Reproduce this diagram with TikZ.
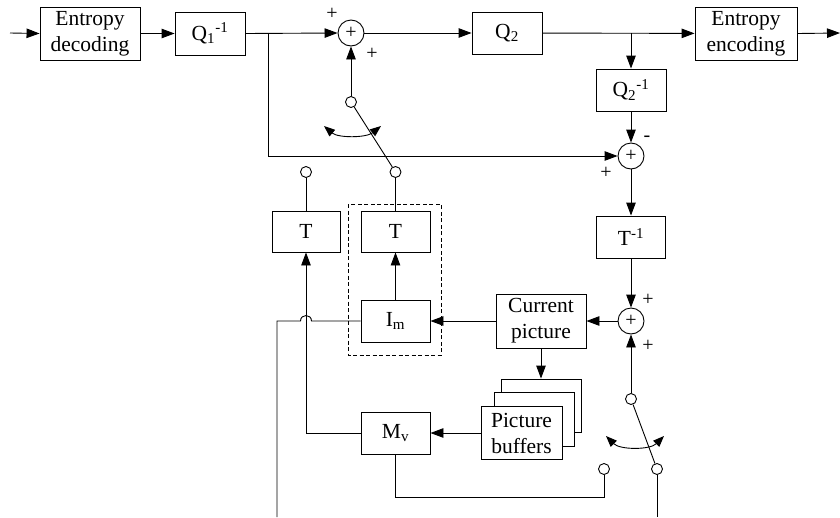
\documentclass[tikz,border=0pt]{standalone}
\usepackage{fontspec}
\setmainfont{Liberation Serif}
\usetikzlibrary{arrows.meta}
\begin{document}
\begin{tikzpicture}[x=1pt,y=-1pt, line width=0.9pt,
  box/.style={draw, inner sep=0pt, align=center, fill=white, font=\fontsize{21.5}{26}\selectfont},
  sumc/.style={draw, circle, minimum size=26pt, inner sep=0pt, font=\fontsize{20}{20}\selectfont},
  pin/.style={draw, circle, minimum size=11pt, inner sep=0pt, fill=white},
  sgn/.style={font=\fontsize{20}{20}\selectfont, inner sep=0pt},
  arr/.style={-{Triangle[length=13pt,width=9.5pt]}},
  sw/.style={{Triangle[length=11pt,width=8.5pt]}-{Triangle[length=11pt,width=8.5pt]}}
]
\useasboundingbox (0,0) rectangle (840,517);

% boxes
\node[box, minimum width=100pt, minimum height=53pt] (ed) at (90,33.5) {Entropy\\decoding};
\node[box, minimum width=70pt, minimum height=43pt] (q1) at (210,33.5) {Q\textsubscript{1}\textsuperscript{-1}};
\node[sumc] (s1) at (351,33) {+};
\node[box, minimum width=70pt, minimum height=42pt] (q2) at (507,33) {Q\textsubscript{2}};
\node[box, minimum width=102pt, minimum height=53pt] (ee) at (746,33.5) {Entropy\\encoding};
\node[box, minimum width=70pt, minimum height=42pt] (q2i) at (631,90) {Q\textsubscript{2}\textsuperscript{-1}};
\node[sumc] (s2) at (631,156) {+};
\node[box, minimum width=69pt, minimum height=42pt] (ti) at (631,237) {T\textsuperscript{-1}};
\node[sumc] (s3) at (631,321) {+};
\node[box, minimum width=90pt, minimum height=54pt] (cp) at (541,321) {Current\\picture};
\node[box, minimum width=69pt, minimum height=42pt] (im) at (395.5,321) {I\textsubscript{m}};
\node[box, minimum width=69pt, minimum height=41pt] (tr) at (395.5,231.5) {T};
\node[box, minimum width=68pt, minimum height=41pt] (tl) at (306,231.5) {T};
\node[box, minimum width=69pt, minimum height=42pt] (mv) at (395.5,433) {M\textsubscript{v}};
\node[box, minimum width=80pt, minimum height=53pt] (bb) at (541,405.5) {};
\node[box, minimum width=80pt, minimum height=54pt] (bm) at (534,419) {};
\node[box, minimum width=81pt, minimum height=53pt] (bf) at (521.5,433) {Picture\\buffers};

% dashed group
\draw[dash pattern=on 4pt off 2.5pt] (348,204) rectangle (441,355);

% switch pins
\node[pin] (c1) at (351,102) {};
\node[pin] (c2) at (395.5,172) {};
\node[pin] (c3) at (306,172) {};
\node[pin] (c4) at (631,399) {};
\node[pin] (c5) at (604,469) {};
\node[pin] (c6) at (657,469) {};

% signs
\node[sgn] at (332,14) {+};
\node[sgn] at (372,54) {+};
\node[sgn] at (647,139) {-};
\node[sgn] at (606,173) {+};
\node[sgn] at (648,300) {+};
\node[sgn] at (648,346) {+};

% free ends
\coordinate (in) at (10,33);
\coordinate (out) at (840,33);
\coordinate (j1) at (268,33.5);
\coordinate (j2) at (631,33);

% main path
\draw[arr] (in) -- (ed.west);
\draw[arr] (ed) -- (q1);
\draw[arr] (q1.east) -- (s1.west);
\draw[arr] (j1) |- (s2.west);
\draw[arr] (s1) -- (q2);
\draw[arr] (q2) -- (ee);
\draw[arr] (j2) -- (q2i.north);
\draw[arr] (ee.east) -- (out);
\draw[arr] (q2i) -- (s2);
\draw[arr] (s2) -- (ti);
\draw[arr] (ti) -- (s3);
\draw[arr] (s3) -- (cp);
\draw[arr] (cp) -- (im);
\draw[arr] (im) -- (tr);
\draw[arr] (cp.south) -- (bb.north);
\draw[arr] (bf.west) -- (mv.east);
\draw[arr] (mv.west) -- (306,433) -- (tl.south);

% switch 1
\draw[arr] (c1) -- (s1.south);
\draw (c1) -- (c2);
\draw (tr.north) -- (c2);
\draw (tl.north) -- (c3);
\draw[sw] (324,126) .. controls (338,138) and (366,138) .. (381,126);

% switch 2
\draw[arr] (c4) -- (s3.south);
\draw (c4) -- (c6);
\draw (c6.south) -- (657,517);
\draw (mv.south) -- (395.5,497) -- (604,497) -- (c5.south);
\draw[sw] (606,436) .. controls (620,450) and (650,450) .. (664,436);

% line with hop
\draw (im.west) -- (311.5,321) .. controls (311.5,313.7) and (300.5,313.7) .. (300.5,321) -- (277,321) -- (277,517);
\end{tikzpicture}
\end{document}
